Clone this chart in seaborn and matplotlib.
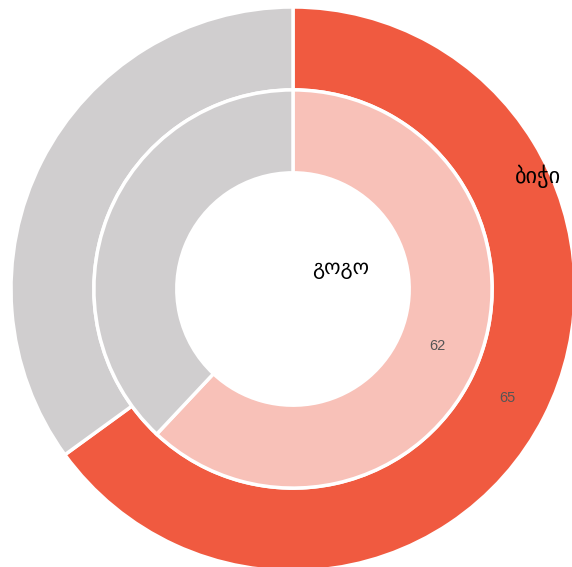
import matplotlib
matplotlib.use("Agg")
import matplotlib.pyplot as plt
import seaborn as sns
import numpy as np

# data
outer_values = [65, 35]
inner_values = [62, 38]
outer_name = "ბიჭი"
inner_name = "გოგო"
outer_colors = ["#F05A40", "#D0CECF"]
inner_colors = ["#F8C1B8", "#D0CECF"]

sns.set_theme(style="white")
plt.rcParams['font.family'] = ['DejaVu Sans']

fig = plt.figure(figsize=(5.72, 5.67), dpi=100)
ax = fig.add_axes([0, 0, 1, 1])

ring = 0.294
wp = dict(width=ring, edgecolor="white", linewidth=2.5)

ax.pie(outer_values, radius=1.0, colors=outer_colors, startangle=90,
       counterclock=False, wedgeprops=wp)
ax.pie(inner_values, radius=1.0 - ring, colors=inner_colors, startangle=90,
       counterclock=False, wedgeprops=wp)

# value labels on the first slice of each ring
def put_label(val, r, total):
    ang = np.deg2rad(90 - 360 * (val / 2) / total)
    ax.text(r * np.cos(ang), r * np.sin(ang), str(val), ha="center", va="center",
            fontsize=10.5, color="#555555", family=["Liberation Sans"])

put_label(outer_values[0], 0.855, sum(outer_values))
put_label(inner_values[0], 0.55, sum(inner_values))

ax.text(0.87, 0.40, outer_name, ha="center", va="center", fontsize=16, color="black")
ax.text(0.167, 0.07, inner_name, ha="center", va="center", fontsize=15, color="black")

ax.set_xlim(-293 / 282, 279 / 282)
ax.set_ylim(-278 / 282, 289 / 282)
ax.set_aspect("auto")
ax.axis("off")

fig.savefig("out.png", dpi=100)
